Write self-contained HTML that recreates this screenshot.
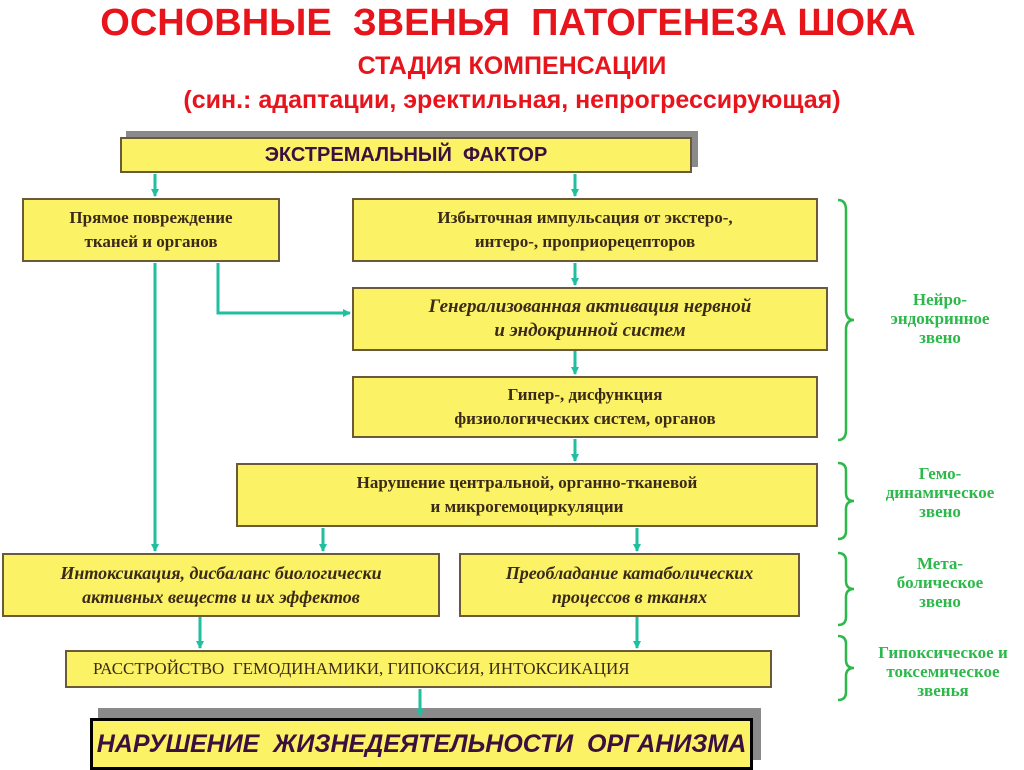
<!DOCTYPE html><html><head><meta charset="utf-8"><style>
body{margin:0;width:1024px;height:767px;background:#fff;position:relative;overflow:hidden;font-family:"Liberation Serif",serif}
.b{position:absolute;background:#fbf265;border:2px solid #6b5a3a;box-sizing:border-box;display:flex;align-items:center;justify-content:center;text-align:center;color:#3a2a1a;font-weight:bold;font-size:17px;line-height:24px;box-shadow:6px -6px 0 #8a8a8a}
.i{font-style:italic}
.t{position:absolute;font-family:"Liberation Sans",sans-serif;font-weight:bold;color:#e8141c;text-align:center;width:1024px;left:0}
.g{position:absolute;color:#2cb84a;font-weight:bold;font-size:17px;text-align:center;line-height:19px;font-family:"Liberation Serif",serif}
</style></head><body>
<div class="t" style="top:2px;font-size:38px;left:-4px">ОСНОВНЫЕ&nbsp; ЗВЕНЬЯ&nbsp; ПАТОГЕНЕЗА ШОКА</div>
<div class="t" style="top:52px;font-size:25px;left:0">СТАДИЯ КОМПЕНСАЦИИ</div>
<div class="t" style="top:86px;font-size:25px;left:0">(син.: адаптации, эректильная, непрогрессирующая)</div>

<div class="b" style="left:120px;top:137px;width:572px;height:36px;font-family:'Liberation Sans',sans-serif;font-size:20px;color:#3a1040">ЭКСТРЕМАЛЬНЫЙ&nbsp; ФАКТОР</div>
<div class="b" style="left:22px;top:198px;width:258px;height:64px;box-shadow:none">Прямое повреждение<br>тканей и органов</div>
<div class="b" style="left:352px;top:198px;width:466px;height:64px;box-shadow:none">Избыточная импульсация от экстеро-,<br>интеро-, проприорецепторов</div>
<div class="b i" style="left:352px;top:287px;width:476px;height:64px;box-shadow:none;font-size:19px">Генерализованная активация нервной<br>и эндокринной систем</div>
<div class="b" style="left:352px;top:376px;width:466px;height:62px;box-shadow:none">Гипер-, дисфункция<br>физиологических систем, органов</div>
<div class="b" style="left:236px;top:463px;width:582px;height:64px;box-shadow:none">Нарушение центральной, органно-тканевой<br>и микрогемоциркуляции</div>
<div class="b i" style="left:2px;top:553px;width:438px;height:64px;box-shadow:none;font-size:18px">Интоксикация, дисбаланс биологически<br>активных веществ и их эффектов</div>
<div class="b i" style="left:459px;top:553px;width:341px;height:64px;box-shadow:none;font-size:18px">Преобладание катаболических<br>процессов в тканях</div>
<div class="b" style="left:65px;top:650px;width:707px;height:38px;box-shadow:none;justify-content:flex-start;padding-left:26px;font-size:17px;font-weight:normal">РАССТРОЙСТВО&nbsp; ГЕМОДИНАМИКИ, ГИПОКСИЯ, ИНТОКСИКАЦИЯ</div>
<div class="b i" style="left:90px;top:718px;width:663px;height:52px;border:3px solid #000;font-family:'Liberation Sans',sans-serif;font-size:25px;color:#3a1040;box-shadow:8px -10px 0 #8a8a8a">НАРУШЕНИЕ&nbsp; ЖИЗНЕДЕЯТЕЛЬНОСТИ&nbsp; ОРГАНИЗМА</div>

<svg width="1024" height="767" style="position:absolute;left:0;top:0" fill="none" stroke="#1fbf9f" stroke-width="3">
<defs><marker id="a" markerWidth="8" markerHeight="8" refX="7" refY="4" orient="auto" markerUnits="userSpaceOnUse"><path d="M0,0L8,4L0,8z" fill="#1fbf9f" stroke="none"/></marker></defs>
<path d="M155 174V196" marker-end="url(#a)"/><path d="M575 174V196" marker-end="url(#a)"/>
<path d="M155 263V551" marker-end="url(#a)"/>
<path d="M218 263V313H350" marker-end="url(#a)"/>
<path d="M575 263V285" marker-end="url(#a)"/><path d="M575 351V374" marker-end="url(#a)"/><path d="M575 439V461" marker-end="url(#a)"/>
<path d="M323 528V551" marker-end="url(#a)"/><path d="M637 528V551" marker-end="url(#a)"/>
<path d="M200 617V648" marker-end="url(#a)"/><path d="M637 617V648" marker-end="url(#a)"/>
<path d="M420 689V716" marker-end="url(#a)"/>
<g stroke="#2cb84a" stroke-width="2.5">
<path d="M838 200q8 0 8 10v100q0 10 8 10q-8 0 -8 10v100q0 10 -8 10"/>
<path d="M838 463q8 0 8 8v22q0 8 8 8q-8 0 -8 8v22q0 8 -8 8"/>
<path d="M838 553q8 0 8 8v20q0 8 8 8q-8 0 -8 8v20q0 8 -8 8"/>
<path d="M838 636q8 0 8 8v16q0 8 8 8q-8 0 -8 8v16q0 8 -8 8"/>
</g></svg>
<div class="g" style="left:880px;top:290px;width:120px">Нейро-<br>эндокринное<br>звено</div>
<div class="g" style="left:870px;top:464px;width:140px">Гемо-<br>динамическое<br>звено</div>
<div class="g" style="left:870px;top:554px;width:140px">Мета-<br>болическое<br>звено</div>
<div class="g" style="left:856px;top:643px;width:174px">Гипоксическое и<br>токсемическое<br>звенья</div>
</body></html>
